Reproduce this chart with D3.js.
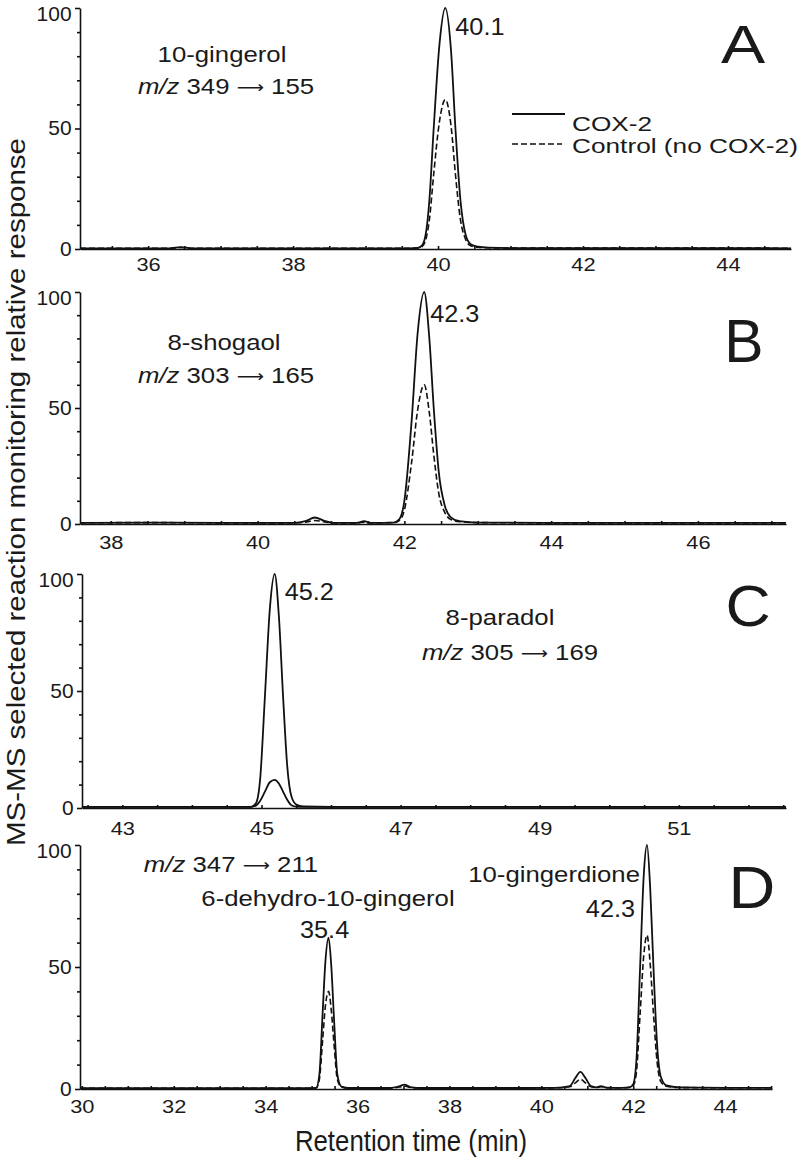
<!DOCTYPE html>
<meta charset="utf-8">
<style>
    body { margin: 0; background: #fff; }
    svg { display: block; font-family: "Liberation Sans", Arial, sans-serif; }
    .trace { fill: none; stroke: #111; stroke-width: 1.8px; stroke-linejoin: round; }
    .trace.ctrl { stroke-dasharray: 6,3; stroke-width: 1.6px; }
    .axis path, .axis line { stroke: #111; stroke-width: 1.6px; }
    .axis text, .lbl { fill: #1a1a1a; }
</style>

<svg id="chart" width="800" height="1158"></svg>

<script src="https://cdnjs.cloudflare.com/ajax/libs/d3/7.8.5/d3.min.js"></script>
<script>

    // retention time (min) and relative response
    // panel A - 10-gingerol
    var timeA = [35.06, 36.3, 36.45, 36.6, 38.0, 39.6, 39.72, 39.78, 39.84, 39.88, 39.94, 40.02, 40.1, 40.18, 40.24, 40.31, 40.38, 40.45, 40.55, 40.7, 41.0, 42.0, 43.0, 44.0, 44.87];
    var cox2A = [0.3, 0.3, 0.8, 0.3, 0.3, 0.3, 0.5, 1.5, 8, 20, 50, 85, 100, 82, 50, 20, 6, 2, 1, 0.6, 0.4, 0.4, 0.4, 0.4, 0.3];
    var ctrlA = [0.3, 0.3, 0.6, 0.3, 0.3, 0.3, 0.4, 1, 5, 12, 31, 53, 62, 51, 31, 12, 4, 1.3, 0.7, 0.5, 0.4, 0.4, 0.4, 0.4, 0.3];

    // panel B - 8-shogaol
    var timeB = [37.58, 38.5, 39.5, 40.5, 40.65, 40.78, 40.9, 41.05, 41.35, 41.45, 41.55, 41.85, 41.93, 42.0, 42.1, 42.18, 42.27, 42.34, 42.4, 42.47, 42.55, 42.63, 42.75, 43.0, 44.0, 45.0, 46.0, 47.2];
    var cox2B = [0.5, 0.6, 0.5, 0.5, 1.2, 2.8, 1.5, 0.5, 0.5, 1.2, 0.5, 0.6, 2, 10, 45, 82, 100, 80, 50, 22, 8, 3, 1.2, 0.6, 0.5, 0.5, 0.5, 0.5];
    var ctrlB = [0.5, 0.6, 0.5, 0.5, 0.8, 1.5, 1, 0.5, 0.5, 0.8, 0.5, 0.6, 1.5, 6, 27, 49, 60, 48, 30, 13, 5, 2, 1, 0.6, 0.5, 0.5, 0.5, 0.5];

    // panel C - 8-paradol
    var timeC = [42.42, 43.5, 44.5, 44.85, 44.92, 44.98, 45.05, 45.12, 45.19, 45.25, 45.31, 45.37, 45.43, 45.5, 45.6, 46.0, 47.0, 48.0, 49.0, 50.0, 51.0, 52.0, 52.54];
    var cox2C = [0.5, 0.5, 0.5, 0.5, 2, 12, 48, 85, 100, 82, 48, 18, 5, 1.5, 0.7, 0.5, 0.5, 0.5, 0.5, 0.5, 0.5, 0.5, 0.5];
    var ctrlC = [0.5, 0.5, 0.5, 0.5, 1, 3, 7, 11, 12, 10.5, 7, 3.5, 1.2, 0.6, 0.5, 0.5, 0.5, 0.5, 0.5, 0.5, 0.5, 0.5, 0.5];

    // panel D - 6-dehydro-10-gingerol and 10-gingerdione
    var timeD = [29.96, 31, 32, 33, 34, 34.9, 35.1, 35.17, 35.24, 35.3, 35.37, 35.43, 35.49, 35.56, 35.65, 35.8, 36.7, 36.92, 37.02, 37.15, 37.4, 38.5, 39.5, 40.3, 40.62, 40.74, 40.85, 40.96, 41.08, 41.2, 41.3, 41.42, 41.75, 41.93, 42.0, 42.07, 42.15, 42.23, 42.3, 42.37, 42.44, 42.52, 42.6, 42.72, 43.0, 44.0, 45.02];
    var cox2D = [0.3, 0.3, 0.3, 0.3, 0.3, 0.3, 0.5, 6, 31, 52, 62, 50, 28, 6, 1, 0.4, 0.4, 1.2, 1.8, 0.8, 0.4, 0.4, 0.4, 0.5, 1.2, 4.5, 7, 4.5, 1.2, 0.7, 1.2, 0.6, 0.5, 0.8, 2, 12, 50, 88, 100, 82, 50, 18, 5, 1.5, 0.7, 0.5, 0.5];
    var ctrlD = [0.3, 0.3, 0.3, 0.3, 0.3, 0.3, 0.4, 4, 20, 34, 40, 32, 18, 4, 0.8, 0.4, 0.4, 0.8, 1.2, 0.6, 0.4, 0.4, 0.4, 0.5, 0.9, 2.5, 4, 2.5, 0.9, 0.6, 0.9, 0.5, 0.5, 0.6, 1.3, 7, 31, 55, 63, 51, 31, 11, 3, 1.1, 0.6, 0.5, 0.5];

    // axes
    var xDomains = [[35.06, 44.87], [37.58, 47.2], [42.42, 52.54], [29.96, 45.02]];
    var xTicksA = [36, 38, 40, 42, 44];
    var xTicksB = [38, 40, 42, 44, 46];
    var xTicksC = [43, 45, 47, 49, 51];
    var xTicksD = [30, 32, 34, 36, 38, 40, 42, 44];
    var yTicks = [0, 50, 100];
    var yMinorTicks = [10, 20, 30, 40, 60, 70, 80, 90];

    // texts
    var panelLetters = ["A", "B", "C", "D"];
    var seriesNames = ["COX-2", "Control (no COX-2)"];
    var compoundNames = ["10-gingerol", "8-shogaol", "8-paradol", "6-dehydro-10-gingerol", "10-gingerdione"];
    var transitions = [["349", "155"], ["303", "165"], ["305", "169"], ["347", "211"]];
    var peakLabels = ["40.1", "42.3", "45.2", "35.4", "42.3"];
    var xTitle = "Retention time (min)";
    var yTitle = "MS-MS selected reaction monitoring relative response";

    // where each panel sits on the page (pixels)
    var layout = [
        {left: 80, right: 791, top: 8, bottom: 249, pad: 9, dash: true,
         letter: {x: 743, y: 63, size: 53, sx: 1.25}},
        {left: 80, right: 786, top: 292, bottom: 524, pad: 12, dash: true,
         letter: {x: 744, y: 362, size: 62, sx: 0.95}},
        {left: 82, right: 786, top: 574, bottom: 808, pad: 14, dash: false,
         letter: {x: 748, y: 626, size: 58, sx: 1.08}},
        {left: 80, right: 772, top: 845, bottom: 1089, pad: 11, dash: true,
         letter: {x: 752, y: 908, size: 60, sx: 1.08}}
    ];

    var panelData = [
        {time: timeA, cox2: cox2A, ctrl: ctrlA, ticks: xTicksA},
        {time: timeB, cox2: cox2B, ctrl: ctrlB, ticks: xTicksB},
        {time: timeC, cox2: cox2C, ctrl: ctrlC, ticks: xTicksC},
        {time: timeD, cox2: cox2D, ctrl: ctrlD, ticks: xTicksD}
    ];

    var svg = d3.select("#chart");

    // text squeezed/stretched horizontally like the scanned figure
    function txt(sel, x, y, str, size, sx, anchor) {
        return sel.append("text")
            .attr("class", "lbl")
            .attr("transform", "translate(" + x + "," + y + ") scale(" + sx + ",1)")
            .attr("font-size", size)
            .attr("text-anchor", anchor || "start")
            .text(str);
    }

    // "m/z 349 -> 155" with italic m/z and a long thin arrow
    function mzText(sel, x, y, pair) {
        var t = txt(sel, x, y, null, 23, 1.12, "middle");
        t.append("tspan").attr("font-style", "italic").text("m/z");
        t.append("tspan").text(" " + pair[0] + " ");
        t.append("tspan").attr("font-family", "DejaVu Sans").attr("font-size", 17)
            .attr("dy", -1).text("\u27F6");
        t.append("tspan").attr("dy", 1).text(" " + pair[1]);
        return t;
    }

    var scales = [];

    layout.forEach(function(p, i) {
        var d = panelData[i];
        var x = d3.scaleLinear().domain(xDomains[i]).range([p.left, p.right]);
        var y = d3.scaleLinear().domain([0, 100]).range([p.bottom, p.top]);
        scales.push({x: x, y: y});
        var g = svg.append("g");

        // x minor ticks every 0.5 min
        var minor = d3.range(Math.ceil(xDomains[i][0] * 2) / 2, xDomains[i][1], 0.5);
        var xm = g.append("g").attr("class", "axis")
            .attr("transform", "translate(0," + p.bottom + ")")
            .call(d3.axisBottom(x).tickValues(minor).tickSize(-3).tickFormat(""));
        xm.select(".domain").remove();

        var xa = g.append("g").attr("class", "axis")
            .attr("transform", "translate(0," + p.bottom + ")")
            .call(d3.axisBottom(x).tickValues(d.ticks).tickSize(0).tickSizeOuter(0)
                .tickPadding(p.pad).tickFormat(d3.format("d")));
        xa.attr("font-size", null).attr("font-family", null);
        xa.selectAll("text").attr("font-size", 19).attr("transform", "scale(1.15,1)");

        // y axis
        var ym = g.append("g").attr("class", "axis")
            .attr("transform", "translate(" + p.left + ",0)")
            .call(d3.axisLeft(y).tickValues(yMinorTicks).tickSize(3).tickFormat(""));
        ym.select(".domain").remove();

        var ya = g.append("g").attr("class", "axis")
            .attr("transform", "translate(" + p.left + ",0)")
            .call(d3.axisLeft(y).tickValues(yTicks).tickSize(5).tickSizeOuter(0).tickPadding(3));
        ya.attr("font-size", null).attr("font-family", null);
        ya.selectAll("text").attr("font-size", 20).attr("transform", "scale(1.05,1)")
            .attr("dy", function(v) { return v === 100 ? "0.62em" : "0.32em"; });

        var line = d3.line()
            .x(function(v) { return x(v[0]); })
            .y(function(v) { return y(v[1]); })
            .curve(d3.curveMonotoneX);

        g.append("path")
            .attr("class", p.dash ? "trace ctrl" : "trace")
            .attr("d", line(d3.zip(d.time, d.ctrl)));
        g.append("path")
            .attr("class", "trace")
            .attr("d", line(d3.zip(d.time, d.cox2)));

        txt(g, p.letter.x, p.letter.y, panelLetters[i], p.letter.size, p.letter.sx, "middle");
    });

    // annotations
    var sA = scales[0], sB = scales[1], sC = scales[2], sD = scales[3];

    txt(svg, 222, 62, compoundNames[0], 23, 1.12, "middle");
    mzText(svg, 226, 94, transitions[0]);
    txt(svg, sA.x(40.1) + 10, sA.y(100) + 27, peakLabels[0], 23, 1.1);

    txt(svg, 224, 350, compoundNames[1], 23, 1.12, "middle");
    mzText(svg, 226, 383, transitions[1]);
    txt(svg, sB.x(42.27) + 6, sB.y(100) + 30, peakLabels[1], 23, 1.1);

    txt(svg, 500, 625, compoundNames[2], 23, 1.12, "middle");
    mzText(svg, 510, 660, transitions[2]);
    txt(svg, sC.x(45.19) + 10, sC.y(100) + 26, peakLabels[2], 23, 1.1);

    mzText(svg, 231, 872, transitions[3]);
    txt(svg, 328, 906, compoundNames[3], 23, 1.12, "middle");
    txt(svg, sD.x(35.37) - 4, sD.y(62), peakLabels[3], 23, 1.1, "middle");
    txt(svg, 640, 882, compoundNames[4], 23, 1.12, "end");
    txt(svg, sD.x(42.3) - 12, 917, peakLabels[4], 23, 1.1, "end");

    // legend in panel A
    var leg = svg.append("g");
    seriesNames.forEach(function(name, i) {
        leg.append("line")
            .attr("class", i === 0 ? "trace" : "trace ctrl")
            .attr("x1", 512).attr("x2", i === 0 ? 565 : 562)
            .attr("y1", 114 + i * 30).attr("y2", 114 + i * 30);
        txt(leg, 572, 131 + i * 22, name, 20.5, 1.28);
    });

    // axis titles
    txt(svg, 411, 1151, xTitle, 30, 0.86, "middle");
    svg.append("text")
        .attr("class", "lbl")
        .attr("transform", "translate(25,492) rotate(-90) scale(1.18,1)")
        .attr("font-size", 25)
        .attr("text-anchor", "middle")
        .text(yTitle);

</script>
